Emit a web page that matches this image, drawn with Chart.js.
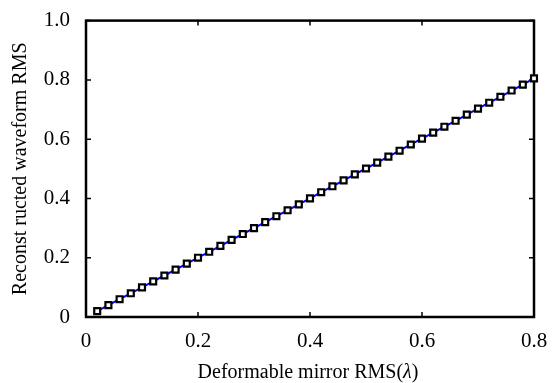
<!DOCTYPE html>
<html>
<head>
<meta charset="utf-8">
<script src="https://cdn.jsdelivr.net/npm/chart.js@4"></script>
<style>
  html, body { margin: 0; padding: 0; background: #fff; }
  #wrap { width: 556px; height: 383px; }
</style>
</head>
<body>
<div id="wrap"><canvas id="rmsChart" width="556" height="383"></canvas></div>
<script>
const mirrorRms = [0.02, 0.04, 0.06, 0.08, 0.10, 0.12, 0.14, 0.16, 0.18, 0.20,
                   0.22, 0.24, 0.26, 0.28, 0.30, 0.32, 0.34, 0.36, 0.38, 0.40,
                   0.42, 0.44, 0.46, 0.48, 0.50, 0.52, 0.54, 0.56, 0.58, 0.60,
                   0.62, 0.64, 0.66, 0.68, 0.70, 0.72, 0.74, 0.76, 0.78, 0.80];
const reconRms = [0.020, 0.040, 0.060, 0.080, 0.100, 0.120, 0.140, 0.160, 0.180, 0.200,
                  0.220, 0.240, 0.260, 0.280, 0.300, 0.320, 0.340, 0.360, 0.380, 0.400,
                  0.421, 0.441, 0.461, 0.481, 0.501, 0.521, 0.541, 0.561, 0.582, 0.602,
                  0.622, 0.642, 0.662, 0.683, 0.703, 0.723, 0.743, 0.764, 0.784, 0.805];
const xTicks = [0, 0.2, 0.4, 0.6, 0.8];
const yTicks = [0, 0.2, 0.4, 0.6, 0.8, 1.0];

const serif = '"Liberation Serif", "Times New Roman", serif';
const fmt = v => v === 0 ? '0' : v.toFixed(1);

// frame + inward ticks on all four sides
const framePlugin = {
    id: 'frame',
    beforeDatasetsDraw(chart) {
        const {ctx, chartArea: a, scales: {x, y}} = chart;
        ctx.save();
        ctx.strokeStyle = '#000';
        ctx.lineWidth = 1.5;
        xTicks.forEach(v => {
            const px = x.getPixelForValue(v);
            ctx.beginPath();
            ctx.moveTo(px, a.bottom); ctx.lineTo(px, a.bottom - 5);
            ctx.moveTo(px, a.top); ctx.lineTo(px, a.top + 5);
            ctx.stroke();
        });
        yTicks.forEach(v => {
            const py = y.getPixelForValue(v);
            ctx.beginPath();
            ctx.moveTo(a.left, py); ctx.lineTo(a.left + 5, py);
            ctx.moveTo(a.right, py); ctx.lineTo(a.right - 5, py);
            ctx.stroke();
        });
        ctx.lineWidth = 2.5;
        ctx.strokeRect(a.left, a.top, a.right - a.left, a.bottom - a.top);
        ctx.restore();
    },
    afterDraw(chart) {
        // x title with italic lambda
        const {ctx, chartArea: a} = chart;
        const parts = [['Deformable mirror RMS(', '20px ' + serif],
                       ['\u03bb', 'italic 20px ' + serif],
                       [')', '20px ' + serif]];
        ctx.save();
        let total = 0;
        parts.forEach(p => { ctx.font = p[1]; total += ctx.measureText(p[0]).width; });
        let cx = (a.left + a.right) / 2 - 2 - total / 2;
        ctx.fillStyle = '#000';
        ctx.textBaseline = 'alphabetic';
        parts.forEach(p => {
            ctx.font = p[1];
            ctx.fillText(p[0], cx, 378);
            cx += ctx.measureText(p[0]).width;
        });
        ctx.restore();
    }
};

new Chart(document.getElementById('rmsChart'), {
    type: 'scatter',
    data: {
        datasets: [{
            data: mirrorRms.map((v, i) => ({x: v, y: reconRms[i]})),
            showLine: true,
            borderColor: '#0000ff',
            borderWidth: 2,
            pointStyle: 'rect',
            pointRadius: 4.2,
            pointBorderColor: '#000',
            pointBackgroundColor: '#fff',
            pointBorderWidth: 2.2,
            clip: false
        }]
    },
    options: {
        responsive: false,
        animation: false,
        layout: {padding: {top: 18, right: 22, bottom: 0, left: 0}},
        plugins: {legend: {display: false}, tooltip: {enabled: false}},
        scales: {
            x: {
                type: 'linear', min: 0, max: 0.8,
                afterBuildTicks: s => { s.ticks = xTicks.map(v => ({value: v})); },
                afterFit: s => { s.height = 66; },
                grid: {display: false},
                border: {display: false},
                ticks: {color: '#000', padding: 4, font: {family: serif, size: 21}, callback: fmt, maxRotation: 0}
            },
            y: {
                type: 'linear', min: 0, max: 1.0,
                afterBuildTicks: s => { s.ticks = yTicks.map(v => ({value: v})); },
                afterFit: s => { s.width = 86; },
                grid: {display: false},
                border: {display: false},
                title: {display: true, text: 'Reconst ructed waveform RMS', color: '#000',
                        font: {family: serif, size: 20}, padding: {top: 9, bottom: 0}},
                ticks: {color: '#000', padding: 8, font: {family: serif, size: 21}, callback: fmt}
            }
        }
    },
    plugins: [framePlugin]
});
</script>
</body>
</html>
